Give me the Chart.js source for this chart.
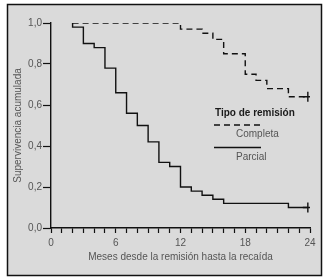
<!DOCTYPE html>
<html><head><meta charset="utf-8">
<script src="https://cdn.jsdelivr.net/npm/chart.js@4/dist/chart.umd.min.js"></script>
<style>html,body{margin:0;padding:0;background:#fff;overflow:hidden}canvas{display:block}</style>
</head><body>
<canvas id="c" width="332" height="280"></canvas>
<script>
// ---- data ----
const completaMonths = [2, 12, 14, 15, 16, 18, 19, 20, 22, 23.8];
const completaSurv   = [1.00, 0.97, 0.95, 0.92, 0.85, 0.75, 0.72, 0.68, 0.64, 0.64];
const parcialMonths  = [2, 2, 3, 4, 5, 6, 7, 8, 9, 10, 11, 12, 13, 14, 15, 16, 22, 23.8];
const parcialSurv    = [1.00, 0.98, 0.90, 0.88, 0.78, 0.66, 0.56, 0.50, 0.42, 0.32, 0.30, 0.20, 0.18, 0.16, 0.14, 0.12, 0.10, 0.10];
const xLabelMonths   = [0, 6, 12, 18, 24];
const seriesNames    = ['Completa', 'Parcial'];
const legendTitle    = 'Tipo de remisión';
const xTitle         = 'Meses desde la remisión hasta la recaída';
const yTitle         = 'Supervivencia acumulada';

const FONT = "'Liberation Sans', Arial, sans-serif";
const GREY = '#555555';
const toPts = (xs, ys) => xs.map((x, i) => ({x, y: ys[i]}));
const lastOnly = (n, v) => ctx => (ctx.dataIndex === n - 1 ? v : 0);

const framePlugin = {
  id: 'frame',
  beforeDraw(chart) {
    const c = chart.ctx;
    c.save();
    c.fillStyle = '#ffffff';
    c.fillRect(0, 0, chart.width, chart.height);
    c.fillStyle = '#dadada';
    c.fillRect(7, 4, 315, 272);
    c.strokeStyle = '#111';
    c.lineWidth = 1.5;
    c.strokeRect(7.5, 4.5, 314, 271);
    c.restore();
  }
};

const legendPlugin = {
  id: 'kmLegend',
  afterDraw(chart) {
    const c = chart.ctx;
    c.save();
    c.textBaseline = 'middle';
    c.fillStyle = '#1a1a1a';
    c.font = "bold 10px " + FONT;
    c.textAlign = 'left';
    c.fillText(legendTitle, 215, 113);
    c.strokeStyle = '#111';
    c.lineWidth = 1.4;
    c.setLineDash([6, 4]);
    c.beginPath(); c.moveTo(214, 125); c.lineTo(262, 125); c.stroke();
    c.setLineDash([]);
    c.beginPath(); c.moveTo(214, 147.5); c.lineTo(261, 147.5); c.stroke();
    c.font = "10px " + FONT;
    c.fillStyle = GREY;
    c.fillText(seriesNames[0], 236, 134);
    c.fillText(seriesNames[1], 236, 157);
    c.restore();
  }
};

new Chart(document.getElementById('c'), {
  type: 'line',
  data: {
    datasets: [
      {
        label: seriesNames[0],
        data: toPts(completaMonths, completaSurv),
        stepped: 'before',
        borderColor: '#111',
        borderWidth: 1.4,
        borderDash: [6, 4],
        fill: false,
        pointStyle: 'cross',
        pointRadius: lastOnly(completaMonths.length, 5),
        pointHoverRadius: 0,
        pointBorderColor: '#111',
        pointBorderWidth: 1.4
      },
      {
        label: seriesNames[1],
        data: toPts(parcialMonths, parcialSurv),
        stepped: 'before',
        borderColor: '#111',
        borderWidth: 1.4,
        fill: false,
        pointStyle: 'cross',
        pointRadius: lastOnly(parcialMonths.length, 5),
        pointHoverRadius: 0,
        pointBorderColor: '#111',
        pointBorderWidth: 1.4
      }
    ]
  },
  options: {
    responsive: false,
    animation: false,
    devicePixelRatio: 1,
    layout: { padding: { left: 0, top: 23, right: 22, bottom: 0 } },
    plugins: { legend: { display: false }, tooltip: { enabled: false } },
    scales: {
      x: {
        type: 'linear',
        min: 0, max: 24,
        afterFit: s => { s.height = 52; },
        ticks: {
          stepSize: 1, autoSkip: false, maxRotation: 0,
          color: GREY, font: { family: FONT, size: 10 }, padding: 4,
          callback: v => (xLabelMonths.includes(v) ? String(v) : '')
        },
        grid: { drawOnChartArea: false, drawTicks: true, tickLength: 5, tickColor: '#111', tickWidth: 1.2 },
        border: { display: true, color: '#111', width: 1.4 },
        title: { display: true, text: xTitle, color: GREY, font: { family: FONT, size: 10 }, padding: { top: 0, bottom: 17 } }
      },
      y: {
        min: 0, max: 1,
        afterFit: s => { s.width = 51; },
        ticks: {
          stepSize: 0.2, color: GREY, font: { family: FONT, size: 10 }, padding: 1,
          callback: v => v.toFixed(1).replace('.', ',')
        },
        grid: { drawOnChartArea: false, drawTicks: true, tickLength: 8, tickColor: '#111', tickWidth: 1.2 },
        border: { display: true, color: '#111', width: 1.4 },
        title: { display: true, text: yTitle, color: GREY, font: { family: FONT, size: 10 }, padding: { top: 12, bottom: 0 } }
      }
    }
  },
  plugins: [framePlugin, legendPlugin]
});
</script>
</body></html>
